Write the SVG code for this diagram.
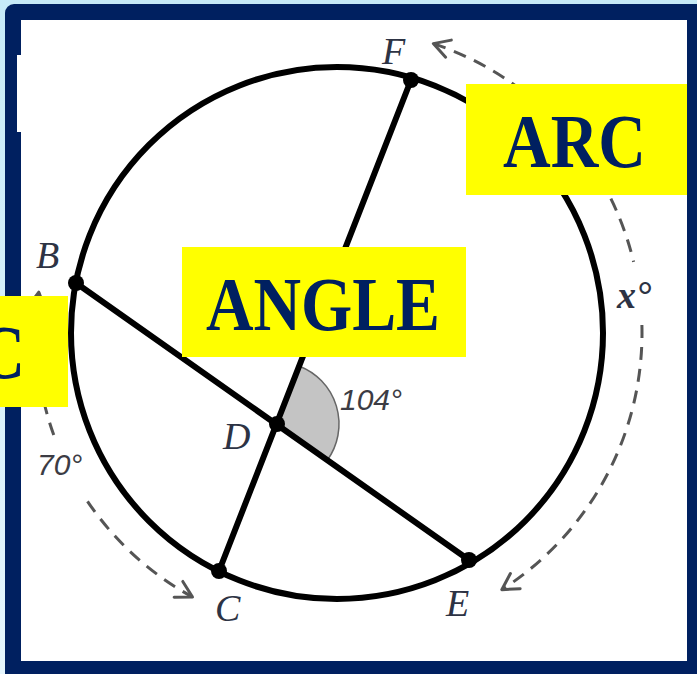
<svg xmlns="http://www.w3.org/2000/svg" width="697" height="674" viewBox="0 0 697 674">
  <defs>
    <linearGradient id="bg" x1="0" y1="0" x2="0" y2="1">
      <stop offset="0" stop-color="#c6eaf8"/>
      <stop offset="1" stop-color="#e6f6fd"/>
    </linearGradient>
    <marker id="ah" markerUnits="userSpaceOnUse" markerWidth="40" markerHeight="40" viewBox="-20 -20 40 40" refX="0" refY="0" orient="auto-start-reverse" overflow="visible">
      <path d="M-16,-9 L0,0 L-16,9" fill="none" stroke="#555" stroke-width="3" stroke-linecap="round" stroke-linejoin="round"/>
    </marker>
  </defs>
  <style>
    .chord { stroke:#000; stroke-width:6; fill:none; stroke-linecap:round; }
    .dash { stroke:#555; stroke-width:3; fill:none; stroke-dasharray:13 9; }
    .pt { fill:#000; }
    .lbl { font-family:"Liberation Serif", serif; font-style:italic; font-size:38px; fill:#2d3344; }
    .deg { font-family:"Liberation Sans", sans-serif; font-style:italic; font-size:30px; fill:#3c3c44; }
    .box { fill:#ffff00; }
    .big { font-family:"Liberation Serif", serif; font-weight:bold; font-size:76px; fill:#002060; }
  </style>

  <!-- frame -->
  <rect x="0" y="0" width="697" height="674" fill="url(#bg)"/>
  <rect x="5" y="4" width="720" height="700" rx="9" fill="#002060"/>
  <rect x="21" y="20" width="666" height="641" fill="#ffffff"/>
  <rect x="17" y="55" width="20" height="77" fill="#ffffff"/>

  <!-- shaded angle -->
  <path id="angle-wedge" d="M277,424 L299.5,366.2 A62,62 0 0 1 327.6,459.8 Z" fill="#c4c4c4" stroke="#666" stroke-width="1.5"/>

  <!-- circle -->
  <circle id="circle" cx="337" cy="333" r="266" fill="none" stroke="#000" stroke-width="6"/>

  <g id="connectors">
    <line class="chord" x1="411" y1="80" x2="219" y2="571"/>
    <line class="chord" x1="76" y1="283" x2="469" y2="560"/>
    <path class="dash" d="M433.3,43.6 A305,305 0 0 1 633.6,261.8" marker-start="url(#ah)"/>
    <path class="dash" d="M641.9,325 A305,305 0 0 1 501.8,589.7" marker-end="url(#ah)"/>
    <path class="dash" d="M38.8,292.2 A301,301 0 0 0 54.1,436" marker-start="url(#ah)"/>
    <path class="dash" d="M87.5,501.3 A301,301 0 0 0 192.5,597" marker-end="url(#ah)"/>
  </g>

  <g id="node-F"><circle class="pt" cx="411" cy="80" r="8"/><text class="lbl" x="382" y="64">F</text></g>
  <g id="node-B"><circle class="pt" cx="76" cy="283" r="8"/><text class="lbl" x="36" y="268">B</text></g>
  <g id="node-D"><circle class="pt" cx="277" cy="424" r="8"/><text class="lbl" x="223" y="449">D</text></g>
  <g id="node-C"><circle class="pt" cx="219" cy="571" r="8"/><text class="lbl" x="215" y="621">C</text></g>
  <g id="node-E"><circle class="pt" cx="469" cy="560" r="8"/><text class="lbl" x="446" y="616">E</text></g>

  <g id="labels">
    <text class="deg" x="340" y="410">104°</text>
    <text class="deg" x="37" y="475">70°</text>
    <text x="617" y="308" font-family="Liberation Serif, serif" font-weight="bold" font-style="italic" font-size="38" fill="#2d3344">x°</text>
  </g>

  <g id="box-arc">
    <rect class="box" x="466" y="84" width="221" height="111"/>
    <text class="big" x="503" y="167" textLength="143" lengthAdjust="spacingAndGlyphs">ARC</text>
  </g>
  <g id="box-angle">
    <rect class="box" x="182" y="247" width="284" height="110"/>
    <text class="big" x="206" y="330" textLength="234" lengthAdjust="spacingAndGlyphs">ANGLE</text>
  </g>
  <g id="box-c">
    <rect class="box" x="0" y="296" width="68" height="111"/>
    <text class="big" x="-22" y="378" textLength="47" lengthAdjust="spacingAndGlyphs">C</text>
  </g>
</svg>
